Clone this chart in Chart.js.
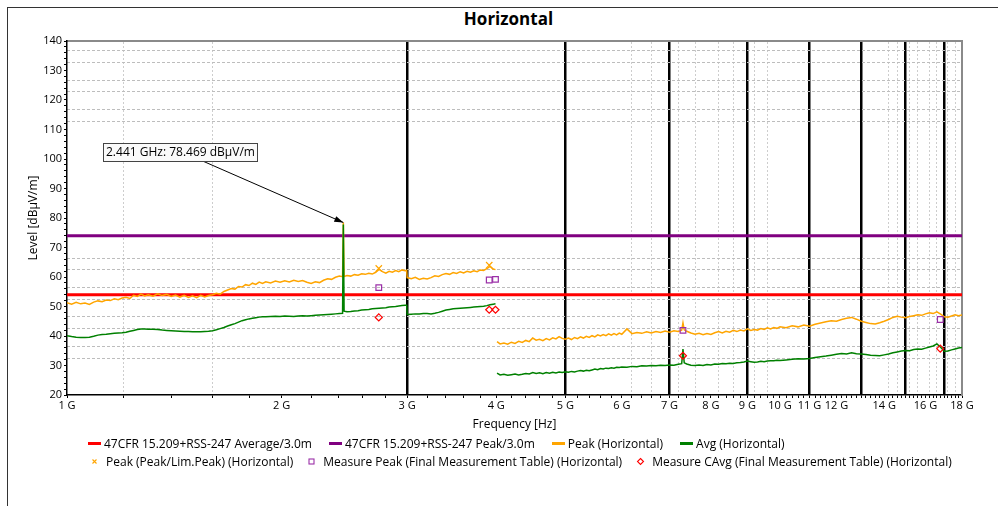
<!DOCTYPE html>
<html>
<head>
<meta charset="utf-8">
<title>Horizontal</title>
<script src="https://cdn.jsdelivr.net/npm/chart.js@4.4.1/dist/chart.umd.min.js"></script>
<style>
  html, body { margin: 0; padding: 0; background: #fff; }
  body { position: relative; width: 998px; height: 506px; overflow: hidden; font-family: "Open Sans", sans-serif; color: #000; }
  #frame { position: absolute; left: 7px; top: 7px; width: 991px; height: 499px; border-top: 1px solid #333; border-left: 1px solid #333; box-sizing: border-box; }
  #title { position: absolute; left: 0; top: 7px; width: 1017px; text-align: center; font-size: 17px; font-weight: bold; line-height: 24px; }
  #chart { position: absolute; left: 0; top: 0; }
  #legend { position: absolute; left: 88px; top: 435px; font-size: 12px; }
  .row { display: flex; align-items: center; height: 17.5px; white-space: nowrap; }
  .item { display: flex; align-items: center; }
  .row1 .item { margin-right: 17px; }
  .row2 .item { margin-right: 12px; }
  .sw { display: inline-block; margin-right: 3px; }
</style>
</head>
<body>
<div id="frame"></div>
<div id="title">Horizontal</div>
<canvas id="chart" width="998" height="506"></canvas>
<div id="legend"></div>
<script>
// --- Data: frequency in GHz, level in dBµV/m ---
// scan 1 (1 - 4 GHz)
const freqLow = [
    1.00,1.015,1.03,1.045,1.06,1.075,1.09,1.105,1.12,1.135,
    1.15,1.165,1.18,1.195,1.21,1.225,1.24,1.255,1.27,1.285,
    1.30,1.32,1.34,1.36,1.38,1.40,1.42,1.44,1.46,1.48,
    1.50,1.52,1.54,1.56,1.58,1.60,1.62,1.64,1.66,1.68,
    1.70,1.72,1.74,1.76,1.78,1.80,1.82,1.84,1.86,1.88,
    1.90,1.93,1.96,1.99,2.02,2.05,2.08,2.11,2.14,2.17,
    2.20,2.23,2.26,2.29,2.32,2.35,2.38,2.41,2.435,2.441,
    2.447,2.47,2.50,2.53,2.56,2.59,2.62,2.65,2.68,2.71,
    2.74,2.77,2.80,2.83,2.86,2.89,2.92,2.95,2.98,2.995,
    3.00,3.04,3.08,3.12,3.16,3.20,3.24,3.28,3.32,3.36,
    3.40,3.44,3.48,3.52,3.56,3.60,3.64,3.68,3.72,3.76,
    3.80,3.84,3.88,3.92,3.96,3.99
];
const peakLow = [
    51.3,50.8,51.4,50.9,51.2,50.7,51.5,51.9,51.6,52.2,
    52.0,52.6,52.3,52.9,53.1,52.7,53.8,53.4,54.2,53.6,
    54.0,53.5,54.3,53.7,54.1,53.4,53.9,53.2,53.8,53.1,
    53.6,53.0,53.8,53.2,53.7,54.0,54.5,54.2,55.1,55.6,
    56.1,55.9,56.8,56.6,57.4,57.1,57.9,57.5,58.3,57.8,
    58.4,58.0,58.6,58.2,58.7,58.3,58.9,58.5,58.8,58.2,
    57.8,58.4,58.1,58.9,59.4,59.2,59.9,60.3,60.1,78.469,
    60.2,60.5,60.3,60.8,60.6,61.1,60.9,61.3,61.0,61.6,
    62.6,61.8,61.3,61.9,61.6,62.2,61.8,62.4,62.1,62.3,
    59.8,59.4,59.9,59.2,59.6,59.3,59.8,60.4,60.2,60.8,
    61.2,60.9,61.5,61.2,61.8,61.4,61.9,61.6,62.1,61.8,
    62.4,62.2,62.8,63.6,62.7,62.5
];
const avgLow = [
    40.1,39.8,39.6,39.5,39.5,39.6,39.9,40.3,40.5,40.6,
    40.8,40.9,41.0,41.1,41.3,41.6,41.9,42.2,42.4,42.4,
    42.3,42.3,42.2,42.0,41.9,41.8,41.7,41.6,41.5,41.5,
    41.4,41.4,41.4,41.5,41.6,41.8,42.1,42.5,42.9,43.4,
    43.8,44.2,44.7,45.2,45.5,45.8,46.0,46.2,46.4,46.5,
    46.5,46.6,46.7,46.6,46.8,46.7,46.6,46.8,46.9,46.8,
    46.9,47.0,47.1,47.2,47.3,47.4,47.5,47.6,47.7,77.8,
    48.4,48.2,48.3,48.5,48.6,48.8,48.9,49.0,49.2,49.3,
    49.4,49.5,49.6,49.8,49.9,50.0,50.2,50.3,50.4,50.4,
    47.3,47.4,47.5,47.5,47.6,47.6,47.5,47.7,48.0,48.4,
    48.8,49.0,49.2,49.3,49.4,49.5,49.6,49.7,49.8,49.9,
    50.0,50.1,50.3,50.6,50.8,50.9
];

// scan 2 (4 - 18 GHz)
const freqHigh = [
    4.01,4.05,4.10,4.15,4.20,4.25,4.30,4.35,4.40,4.45,
    4.50,4.55,4.60,4.65,4.70,4.75,4.80,4.85,4.90,4.95,
    5.00,5.05,5.10,5.15,5.20,5.25,5.30,5.35,5.40,5.45,
    5.50,5.55,5.60,5.65,5.70,5.75,5.80,5.85,5.90,5.95,
    6.00,6.10,6.20,6.30,6.40,6.50,6.60,6.70,6.80,6.90,
    7.00,7.10,7.20,7.28,7.31,7.34,7.40,7.50,7.60,7.70,
    7.80,7.90,8.00,8.10,8.20,8.30,8.40,8.50,8.60,8.70,
    8.80,8.90,9.00,9.10,9.20,9.30,9.40,9.50,9.60,9.70,
    9.80,9.90,10.0,10.2,10.4,10.6,10.8,11.0,11.2,11.4,
    11.6,11.8,12.0,12.2,12.4,12.6,12.8,13.0,13.2,13.4,
    13.6,13.8,14.0,14.2,14.4,14.6,14.8,15.0,15.2,15.4,
    15.6,15.8,16.0,16.2,16.4,16.6,16.8,17.0,17.2,17.4,
    17.6,17.8,18.0
];
const peakHigh = [
    38.1,37.3,37.6,37.2,37.9,37.5,38.2,37.8,38.5,38.1,
    39.3,38.6,38.9,38.4,39.1,38.7,39.4,39.0,39.8,39.2,
    38.9,39.3,38.8,39.5,39.1,39.7,39.3,39.9,39.5,40.1,
    39.7,40.4,40.0,40.5,40.1,40.7,40.3,40.8,40.4,41.0,
    40.6,42.4,40.8,41.2,40.9,41.4,41.0,41.5,41.2,41.7,
    41.3,41.8,41.5,42.0,44.5,42.1,41.6,41.0,40.6,40.9,
    40.4,40.8,40.5,41.1,41.5,41.0,41.6,41.3,41.9,41.5,
    42.0,41.7,42.4,41.9,42.2,42.0,42.5,42.2,42.8,42.4,
    42.9,42.6,43.1,42.8,43.5,43.1,43.7,43.3,44.0,44.4,
    44.8,45.2,45.0,45.6,46.0,46.3,45.7,45.0,44.6,44.2,
    44.1,44.5,45.0,45.6,46.3,46.7,46.4,46.2,46.6,46.9,
    47.2,47.0,47.5,47.9,47.6,48.2,47.4,46.5,46.4,46.8,
    47.2,46.9,47.1
];
const avgHigh = [
    27.4,26.8,27.0,26.7,26.9,27.1,26.8,27.0,27.3,27.1,
    27.6,27.3,27.5,27.2,27.6,27.4,27.7,27.5,27.8,27.6,
    27.9,27.7,28.0,27.8,28.1,28.3,28.1,28.4,28.2,28.5,
    28.8,28.6,29.0,28.8,29.1,29.0,29.2,29.1,29.4,29.3,
    29.5,29.4,29.7,29.6,29.9,29.8,30.0,29.9,30.1,30.0,
    30.2,30.1,30.4,30.6,35.6,30.9,30.5,30.1,30.0,30.2,
    30.0,30.3,30.2,30.5,30.4,30.7,30.6,30.8,30.7,30.9,
    31.0,31.2,31.5,31.3,31.1,31.2,31.4,31.3,31.5,31.6,
    31.6,31.8,31.7,31.9,32.1,32.3,32.2,32.4,32.7,33.0,
    33.2,33.5,33.8,34.1,33.9,34.3,34.0,33.9,33.7,33.5,
    33.4,33.3,33.6,33.9,34.3,34.6,34.9,35.1,35.0,35.4,
    35.6,35.5,35.9,36.3,36.6,37.3,36.2,34.8,34.9,35.3,
    35.6,35.9,36.1
];

// limits
const avgLimit = 54;
const peakLimit = 74;

// markers
const peakMarkFreq = [2.737, 3.91];
const peakMarkLevel = [62.9, 64.0];
const measFreq = [2.737, 3.91, 3.99, 7.31, 16.78];
const measPeak = [56.4, 59.0, 59.2, 41.9, 45.6];
const measCAvg = [46.3, 48.9, 48.9, 33.3, 35.7];

// callout
const spikeFreq = 2.441, spikeLevel = 78.469;
const calloutBox = [1.123, 105.3];   // top-left of label, data coords
const arrowFrom = [1.547, 99.4];

// axes
const xLabelTicks = [1,2,3,4,5,6,7,8,9,10,11,12,14,16,18];
const xBlackLines = [3,5,7,9,11,13,15,17];
const xLightLines = [1.2,1.6,6.2,6.6,7.2,7.6,8.2,8.6,9.2,9.6,14.2,14.6,15.2,15.6,16.2,16.6,17.2,17.6];
const yDashLines = [32.3,36.5,42.4,46.5,52.4,56.4,62.4,66.4,112.6,116.8,122.8,126.7,132.8,136.8];

// --- Build ---
const xy = (fs, vs) => fs.map((f, i) => ({ x: f, y: vs[i] }));
const gap = { x: 4.0, y: null };

let xTicks = [...xLabelTicks];
for (let i = 0; i <= 85; i++) xTicks.push(Math.round(10 + 2 * i) / 10);
xTicks = [...new Set(xTicks)].sort((a, b) => a - b);
const yTicks = [];
for (let v = 20; v <= 140; v += 2) yTicks.push(v);

const FONT = '"Open Sans", sans-serif';
Chart.defaults.font.family = FONT;
Chart.defaults.color = '#000';

const setTicks = vals => s => { s.ticks = vals.map(v => ({ value: v })); };
const logAxis = (extra) => Object.assign({ type: 'logarithmic', min: 1, max: 18, bounds: 'data' }, extra);

const datasets = [
    { label: '47CFR 15.209+RSS-247 Average/3.0m', data: [{x:1,y:avgLimit},{x:18,y:avgLimit}], borderColor: '#ff0000', borderWidth: 3, order: 6 },
    { label: '47CFR 15.209+RSS-247 Peak/3.0m', data: [{x:1,y:peakLimit},{x:18,y:peakLimit}], borderColor: '#800080', borderWidth: 3, order: 5 },
    { label: 'Peak (Horizontal)', data: [...xy(freqLow, peakLow), gap, ...xy(freqHigh, peakHigh)], borderColor: '#ffa500', borderWidth: 1.5, order: 4 },
    { label: 'Avg (Horizontal)', data: [...xy(freqLow, avgLow), gap, ...xy(freqHigh, avgHigh)], borderColor: '#008000', borderWidth: 1.5, order: 3 },
    { label: 'Peak (Peak/Lim.Peak) (Horizontal)', data: xy(peakMarkFreq, peakMarkLevel), showLine: false, pointStyle: 'crossRot', pointRadius: 4.5, borderColor: '#ffa500', borderWidth: 1.2, order: 2 },
    { label: 'Measure Peak (Final Measurement Table) (Horizontal)', data: xy(measFreq, measPeak), showLine: false, pointStyle: 'rect', pointRadius: 4, borderColor: '#9b30a8', backgroundColor: 'rgba(255,255,255,0)', borderWidth: 1.2, order: 1 },
    { label: 'Measure CAvg (Final Measurement Table) (Horizontal)', data: xy(measFreq, measCAvg), showLine: false, pointStyle: 'rectRot', pointRadius: 3.5, borderColor: '#ff0000', backgroundColor: 'rgba(255,255,255,0)', borderWidth: 1.2, order: 0 }
];
datasets.forEach(d => {
    if (d.showLine !== false) { d.pointRadius = 0; d.spanGaps = false; d.tension = 0; }
});

const callout = {
    id: 'callout',
    afterDatasetsDraw(chart) {
        const { ctx } = chart;
        const x = chart.scales.x, y = chart.scales.y;
        const text = spikeFreq + ' GHz: ' + spikeLevel + ' dBµV/m';
        ctx.save();
        ctx.font = '12px ' + FONT;
        const tx = x.getPixelForValue(spikeFreq), ty = y.getPixelForValue(spikeLevel);
        const sx = x.getPixelForValue(arrowFrom[0]), sy = y.getPixelForValue(arrowFrom[1]);
        ctx.strokeStyle = '#000'; ctx.lineWidth = 1;
        ctx.beginPath(); ctx.moveTo(sx, sy); ctx.lineTo(tx, ty); ctx.stroke();
        const a = Math.atan2(ty - sy, tx - sx), L = 9, W = 3;
        ctx.beginPath();
        ctx.moveTo(tx, ty);
        ctx.lineTo(tx - L * Math.cos(a) + W * Math.sin(a), ty - L * Math.sin(a) - W * Math.cos(a));
        ctx.lineTo(tx - L * Math.cos(a) - W * Math.sin(a), ty - L * Math.sin(a) + W * Math.cos(a));
        ctx.closePath(); ctx.fillStyle = '#000'; ctx.fill();
        const bx = Math.round(x.getPixelForValue(calloutBox[0])) + 0.5;
        const by = Math.round(y.getPixelForValue(calloutBox[1])) + 0.5;
        const bw = Math.round(ctx.measureText(text).width) + 5, bh = 18;
        ctx.fillStyle = '#fafafa'; ctx.fillRect(bx, by, bw, bh);
        ctx.strokeStyle = '#444'; ctx.strokeRect(bx, by, bw, bh);
        ctx.fillStyle = '#000'; ctx.textBaseline = 'middle';
        ctx.fillText(text, bx + 2.5, by + bh / 2 + 0.5);
        ctx.restore();
    }
};

const chart = new Chart(document.getElementById('chart').getContext('2d'), {
    type: 'line',
    data: { datasets },
    plugins: [callout],
    options: {
        responsive: false, animation: false, devicePixelRatio: 1,
        layout: { padding: { left: 20, top: 41, right: 36, bottom: 71 } },
        plugins: { legend: { display: false }, tooltip: { enabled: false }, title: { display: false } },
        scales: {
            x: logAxis({
                position: 'bottom',
                afterBuildTicks: setTicks(xTicks),
                afterFit: s => { s.height = 40; },
                ticks: { autoSkip: false, maxRotation: 0, minRotation: 0, padding: 1, font: { size: 11 },
                    callback: v => xLabelTicks.includes(v) ? v + ' G' : '' },
                grid: { drawOnChartArea: false, tickLength: 3, tickColor: '#000', tickWidth: 1 },
                border: { color: '#000', width: 1.5 },
                title: { display: true, text: 'Frequency [Hz]', font: { size: 12 }, padding: { top: 0, bottom: 3 } }
            }),
            xBlack: logAxis({
                position: 'bottom',
                afterBuildTicks: setTicks(xBlackLines),
                afterFit: s => { s.height = 0; },
                ticks: { display: false },
                grid: { color: '#000', lineWidth: 2.5, drawTicks: false },
                border: { display: false }
            }),
            xLight: logAxis({
                position: 'top',
                afterBuildTicks: setTicks(xLightLines),
                afterFit: s => { s.height = 0; },
                ticks: { display: false },
                grid: { color: '#cdcdcd', lineWidth: 1, drawTicks: false },
                border: { display: true, color: '#8a8a8a', width: 2, dash: [2, 2] }
            }),
            y: {
                type: 'linear', min: 20, max: 140, position: 'left',
                afterBuildTicks: setTicks(yTicks),
                afterFit: s => { s.width = 47; },
                ticks: { autoSkip: false, padding: 2, font: { size: 11 }, callback: v => v % 10 === 0 ? v : '' },
                grid: { drawOnChartArea: false, tickLength: 3, tickColor: '#000' },
                border: { color: '#000', width: 1.5 },
                title: { display: true, text: 'Level [dBµV/m]', font: { size: 12 }, padding: { top: 6, bottom: 0 } }
            },
            yDash: {
                type: 'linear', min: 20, max: 140, position: 'right',
                afterBuildTicks: setTicks(yDashLines),
                afterFit: s => { s.width = 0; },
                ticks: { display: false },
                grid: { color: '#bdbdbd', lineWidth: 1, drawTicks: false },
                border: { display: true, color: '#8a8a8a', width: 2, dash: [3, 2] }
            }
        }
    }
});

// --- HTML legend built from the datasets ---
function swatch(ds) {
    if (ds.showLine !== false) {
        return `<span class="sw" style="width:13px;height:3px;background:${ds.borderColor}"></span>`;
    }
    const c = ds.borderColor;
    let shape = '';
    if (ds.pointStyle === 'crossRot') shape = `<path d="M4.5 4.5L8.5 8.5M8.5 4.5L4.5 8.5" stroke="${c}" stroke-width="1.1"/>`;
    else if (ds.pointStyle === 'rect') shape = `<rect x="4" y="4" width="5" height="5" fill="none" stroke="${c}" stroke-width="1.1"/>`;
    else shape = `<path d="M6.5 3.5L9.5 6.5L6.5 9.5L3.5 6.5Z" fill="none" stroke="${c}" stroke-width="1.1"/>`;
    return `<svg class="sw" width="13" height="13" style="margin-right:5px">${shape}</svg>`;
}
const rows = [datasets.slice(0, 4), datasets.slice(4)];
document.getElementById('legend').innerHTML = rows.map((r, i) =>
    `<div class="row row${i + 1}">` + r.map(ds => `<span class="item">${swatch(ds)}<span>${ds.label}</span></span>`).join('') + '</div>'
).join('');
</script>
</body>
</html>
